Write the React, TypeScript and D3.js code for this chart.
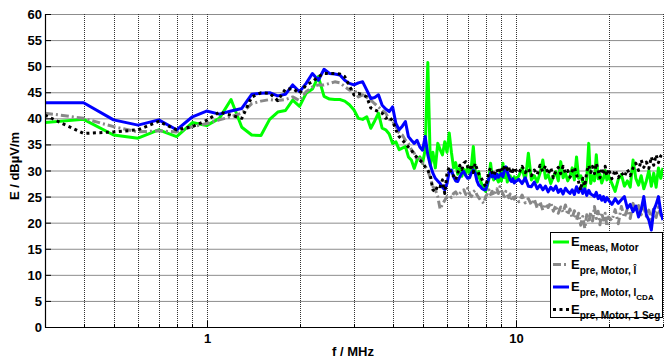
import React, { useEffect, useRef } from 'react';
import * as d3 from 'd3';

// frequency grid in MHz (same for all four curves)
const lowFreqs = [0.3, 0.4, 0.5, 0.6, 0.7, 0.8, 0.9];
const freqs = lowFreqs.concat(
  d3.range(10, 101).map(d => d / 10),  // 1.0 .. 10.0
  d3.range(41, 81).map(d => d / 4),    // 10.25 .. 20
  d3.range(41, 61).map(d => d / 2)     // 20.5 .. 30
);

// E meas, Motor
const eMeas = [
  39.2, 39.8, 36.8, 36.2, 37.8, 36.5, 39.2,
  38.6, 40.0, 43.6, 38.3, 36.8, 36.7, 39.8, 41.2, 41.5, 43.5,
  42.3, 44.8, 45.6, 48.0, 44.2, 43.7, 43.6, 43.6, 43.3, 42.6,
  41.6, 40.0, 39.8, 40.3, 38.1, 39.5, 41.0, 38.1, 37.8, 37.0,
  35.2, 35.5, 34.0, 34.3, 34.6, 32.6, 32.0, 30.4, 32.0, 32.6,
  31.4,
  34.0, 50.7, 31.0, 33.5, 30.5, 35.2, 34.0, 33.0, 35.5, 33.5,
  37.2, 33.5, 30.5, 31.5, 29.3, 30.5, 28.9, 30.2, 29.2, 30.8,
  29.5, 31.0, 34.6, 30.0, 28.4, 29.8, 28.0, 27.2, 26.6, 26.0,
  27.0, 28.5, 31.4, 29.0, 28.2, 28.8, 28.5, 27.8, 29.5, 28.0,
  31.4, 28.6, 30.0, 27.8, 28.6, 29.0, 28.3, 28.0, 28.8, 28.2,
  29.0, 30.5, 28.0, 33.3, 28.2, 29.0, 27.8, 29.5, 32.0, 28.5,
  29.2, 27.5, 28.8, 29.8, 28.0, 31.7, 28.6, 29.5, 28.0, 28.9,
  30.5, 28.2, 32.6, 28.5, 29.0, 27.8, 26.5, 28.5, 35.2, 27.5,
  29.0, 28.0, 33.0, 28.4, 29.3, 27.6, 28.5, 30.0, 28.2, 29.0,
  27.5, 26.0, 28.3, 29.2, 27.0, 28.0, 26.8, 32.0, 28.5, 27.2,
  29.0, 26.5, 28.0, 30.0, 27.0, 29.5, 26.8, 30.5, 28.5, 30.5
];

// E pre, Motor, I hat
const ePreHat = [
  41.0, 40.0, 38.4, 37.4, 37.6, 37.4, 38.4,
  39.0, 39.7, 40.3, 41.0, 42.8, 43.3, 43.6, 43.4, 43.6, 44.1,
  43.4, 45.1, 46.0, 46.4, 46.4, 46.7, 47.0, 46.8, 46.1, 45.4,
  45.6, 44.1, 44.5, 44.0, 43.5, 42.8, 42.2, 41.5, 41.0, 39.8,
  39.5, 38.4, 37.2, 36.8, 35.8, 35.2, 34.0, 33.3, 32.0, 32.3,
  31.4,
  30.8, 30.1, 28.5, 26.9, 26.3, 25.0, 22.6, 23.5, 24.3, 25.0,
  25.3, 24.8, 25.6, 25.9, 25.2, 25.6, 26.0, 26.3, 25.4, 26.6,
  25.5, 25.0, 25.9, 26.2, 25.3, 24.8, 24.3, 24.0, 23.7, 25.0,
  25.5, 26.3, 25.4, 26.0, 25.2, 25.8, 26.5, 25.6, 26.9, 26.2,
  25.5, 25.0, 26.0, 25.4, 24.8, 25.5, 24.6, 25.2, 24.5, 25.0,
  24.0, 25.3, 23.8, 24.6, 23.4, 24.5, 22.8, 24.0, 22.4, 23.6,
  22.9, 23.9, 22.2, 23.3, 21.8, 23.0, 22.0, 23.4, 21.5, 22.6,
  20.9, 22.3, 20.5, 21.8, 19.5, 21.2, 18.9, 21.5, 20.0, 22.0,
  20.3, 23.1, 20.8, 22.2, 19.6, 21.9, 20.5, 21.8, 19.3, 21.1,
  20.4, 22.5, 19.8, 23.1, 21.0, 22.6, 20.8, 23.7, 22.0, 23.3,
  21.5, 22.9, 21.2, 22.4, 20.6, 22.8, 21.0, 23.0, 21.4, 22.4
];

// E pre, Motor, I_CDA
const ePreCda = [
  43.0, 43.0, 39.7, 38.7, 39.7, 37.8, 40.3,
  41.4, 40.8, 41.4, 41.9, 44.6, 44.8, 44.9, 44.3, 44.6, 46.4,
  45.1, 46.7, 48.6, 47.3, 49.4, 48.6, 48.5, 48.3, 47.3, 46.7,
  46.4, 46.8, 47.0, 45.4, 43.8, 44.0, 44.5, 42.5, 41.8, 41.3,
  42.2, 39.0, 37.8, 38.5, 39.4, 36.5, 35.8, 35.2, 35.8, 34.5,
  33.9,
  36.5, 33.0, 31.0, 29.5, 28.5, 28.0, 27.5, 26.8, 26.3, 27.5,
  29.8, 30.1, 28.8, 28.0, 27.9, 28.8, 29.5, 29.8, 29.0, 28.5,
  28.6, 29.6, 30.1, 29.5, 28.0, 27.2, 26.9, 26.5, 26.3, 26.3,
  27.5, 28.5, 29.5, 28.8, 29.2, 28.5, 29.3, 28.7, 29.1, 29.4,
  28.8, 30.0, 30.7, 29.8, 29.0, 28.2, 27.9, 28.4, 27.6, 27.9,
  28.3, 27.5, 28.6, 27.0, 26.9, 27.8, 26.5, 27.2, 26.3, 27.0,
  25.9, 26.8, 26.2, 27.0, 25.8, 26.4, 25.5, 26.6, 26.0, 25.6,
  26.3, 25.4, 26.9, 25.8, 26.9, 25.6, 26.5, 25.2, 26.2, 25.5,
  25.3, 25.0, 25.8, 24.6, 25.2, 24.3, 25.0, 24.0, 24.8, 24.3,
  23.5, 24.6, 23.7, 24.4, 25.0, 22.8, 23.5, 22.1, 23.2, 21.1,
  22.5, 25.0, 21.5, 20.5, 18.6, 22.4, 23.5, 25.0, 22.0, 20.5
];

// E pre, Motor, 1 Seg
const ePreSeg = [
  40.6, 37.1, 37.4, 37.8, 39.4, 37.8, 38.4,
  39.6, 41.2, 40.6, 40.0, 44.1, 44.9, 44.8, 43.4, 45.6, 45.7,
  44.8, 46.4, 47.0, 48.0, 48.6, 48.6, 48.6, 48.5, 48.0, 46.2,
  44.5, 44.8, 44.5, 44.1, 42.0, 41.6, 41.3, 41.0, 40.0, 40.3,
  39.5, 37.8, 36.5, 35.8, 35.2, 34.5, 33.9, 33.0, 32.5, 32.0,
  31.5,
  30.7, 30.1, 29.0, 26.3, 25.9, 27.2, 26.9, 28.2, 25.6, 29.5,
  30.7, 29.1, 29.0, 28.2, 29.5, 31.0, 30.2, 31.4, 31.7, 30.7,
  30.1, 31.2, 29.6, 31.4, 30.3, 29.4, 28.8, 28.2, 27.5, 26.9,
  28.2, 29.8, 30.5, 29.6, 29.0, 29.8, 30.3, 29.4, 30.1, 30.7,
  29.8, 30.9, 31.0, 30.2, 30.7, 29.5, 30.3, 29.8, 30.6, 30.1,
  29.5, 30.8, 29.6, 30.4, 29.0, 30.1, 29.2, 31.0, 29.8, 30.9,
  29.3, 30.5, 28.6, 29.9, 30.6, 29.4, 30.8, 29.5, 30.0, 28.7,
  29.9, 30.6, 29.2, 27.8, 26.2, 28.5, 27.0, 29.8, 31.0, 29.6,
  30.8, 29.4, 31.4, 30.0, 28.6, 30.5, 29.2, 30.8, 29.0, 30.3,
  28.4, 30.1, 28.6, 29.6, 28.8, 30.2, 29.0, 30.5, 31.4, 30.0,
  32.0, 30.6, 31.6, 30.4, 32.6, 31.0, 33.0, 31.5, 32.8, 33.3
];

const yTicks = d3.range(0, 61, 5);
const xMinor = [0.4, 0.5, 0.6, 0.7, 0.8, 0.9, 2, 3, 4, 5, 6, 7, 8, 9, 20, 30];
const xMajor = [1, 10];

const series = [
  { sub: 'meas, Motor', sub2: '', vals: eMeas, color: '#00ff00', dash: null },
  { sub: 'pre, Motor, Î', sub2: '', vals: ePreHat, color: '#888888', dash: '8,3,2,3' },
  { sub: 'pre, Motor, I', sub2: 'CDA', vals: ePreCda, color: '#0000ff', dash: null },
  { sub: 'pre, Motor, 1 Seg', sub2: '', vals: ePreSeg, color: '#000000', dash: '3,3.5' },
];

const W = 664, H = 361;
const font = '"Liberation Sans", Arial, Helvetica, sans-serif';

export default function App() {
  const ref = useRef<SVGSVGElement>(null);

  useEffect(() => {
    const svg = d3.select(ref.current);
    svg.selectAll('*').remove();

    const left = 45, right = 663, top = 14, bottom = 327;
    const x = d3.scaleLog().domain([0.3, 30]).range([left, right]);
    const y = d3.scaleLinear().domain([0, 60]).range([bottom, top]);

    svg.append('rect').attr('width', W).attr('height', H).attr('fill', '#fff');

    svg.append('clipPath').attr('id', 'plotclip')
      .append('rect').attr('x', left).attr('y', top - 2).attr('width', right - left).attr('height', bottom - top + 2);

    // horizontal grid
    svg.append('g').selectAll('line').data(yTicks.filter(d => d > 0)).join('line')
      .attr('x1', left).attr('x2', right)
      .attr('y1', d => y(d) + 0.5).attr('y2', d => y(d) + 0.5)
      .attr('stroke', '#8c8c8c').attr('stroke-width', 1);

    // vertical grid (dotted)
    svg.append('g').selectAll('line').data(xMinor.concat(xMajor)).join('line')
      .attr('x1', d => Math.round(x(d)) + 0.5).attr('x2', d => Math.round(x(d)) + 0.5)
      .attr('y1', top).attr('y2', bottom)
      .attr('stroke', '#333').attr('stroke-width', 1)
      .attr('stroke-dasharray', '1,1');

    // curves
    const line = d3.line<number>()
      .x((d, i) => x(freqs[i]))
      .y(d => y(d));

    const plot = svg.append('g').attr('clip-path', 'url(#plotclip)');
    series.forEach(s => {
      const p = plot.append('path')
        .datum(s.vals)
        .attr('fill', 'none')
        .attr('stroke', s.color)
        .attr('stroke-width', 3)
        .attr('stroke-linejoin', 'round')
        .attr('d', line);
      if (s.dash) p.attr('stroke-dasharray', s.dash);
    });

    // axes lines
    svg.append('line').attr('x1', left + 0.5).attr('x2', left + 0.5).attr('y1', top).attr('y2', bottom + 0.5)
      .attr('stroke', '#000').attr('stroke-width', 1.2);
    svg.append('line').attr('x1', left).attr('x2', right).attr('y1', bottom + 0.5).attr('y2', bottom + 0.5)
      .attr('stroke', '#000').attr('stroke-width', 1.2);

    // y ticks + labels
    const yg = svg.append('g');
    yg.selectAll('line').data(yTicks).join('line')
      .attr('x1', left).attr('x2', left + 6)
      .attr('y1', d => y(d) + 0.5).attr('y2', d => y(d) + 0.5)
      .attr('stroke', '#000');
    yg.selectAll('text').data(yTicks).join('text')
      .attr('x', 42).attr('y', d => y(d) + 5)
      .attr('text-anchor', 'end')
      .style('font', `bold 13px ${font}`)
      .text(d => d);

    // x ticks + labels
    const xg = svg.append('g');
    xg.selectAll('line').data(xMinor.concat(xMajor)).join('line')
      .attr('x1', d => Math.round(x(d)) + 0.5).attr('x2', d => Math.round(x(d)) + 0.5)
      .attr('y1', bottom).attr('y2', d => xMajor.includes(d) ? bottom - 6 : bottom - 3)
      .attr('stroke', '#000');
    xg.selectAll('text').data(xMajor).join('text')
      .attr('x', d => x(d) + 1).attr('y', 343)
      .attr('text-anchor', 'middle')
      .style('font', `bold 13px ${font}`)
      .text(d => d);

    svg.append('text').attr('x', 353).attr('y', 356).attr('text-anchor', 'middle')
      .style('font', `bold 13px ${font}`).text('f / MHz');
    svg.append('text').attr('transform', 'translate(19,166) rotate(-90)').attr('text-anchor', 'middle')
      .style('font', `bold 13px ${font}`).text('E / dBµV/m');

    // legend
    const lg = svg.append('g');
    lg.append('rect').attr('x', 550.5).attr('y', 232.5).attr('width', 112).attr('height', 85)
      .attr('fill', '#fff').attr('stroke', '#000').attr('stroke-width', 1);
    series.forEach((s, i) => {
      const ly = 242 + i * 22.5;
      const l = lg.append('line').attr('x1', 553).attr('x2', 569).attr('y1', ly).attr('y2', ly)
        .attr('stroke', s.color).attr('stroke-width', 3);
      if (s.dash) l.attr('stroke-dasharray', s.dash);
      const t = lg.append('text').attr('x', 571).attr('y', ly + 4)
        .style('font', `bold 13px ${font}`);
      t.append('tspan').text('E');
      t.append('tspan').attr('dy', 5).style('font-size', '10px').text(s.sub);
      if (s.sub2) t.append('tspan').attr('dy', 4).style('font-size', '8px').text(s.sub2);
    });
  }, []);

  return (
    <svg ref={ref} width={W} height={H} style={{ position: 'absolute', left: 0, top: 0 }} />
  );
}
